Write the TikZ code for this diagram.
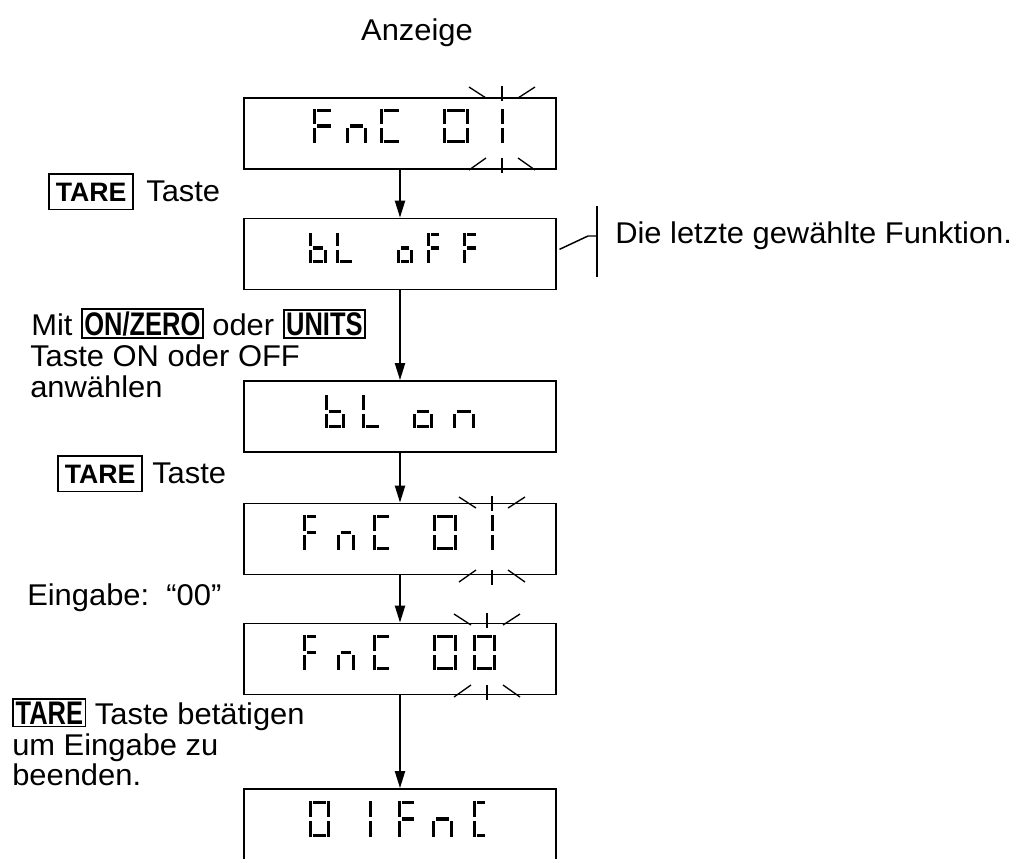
\documentclass[tikz,border=0pt]{standalone}
\usepackage{fontspec}
\setmainfont{Liberation Sans}[FakeStretch=1.03]
\newfontfamily\keyfont{Liberation Sans}
\newfontfamily\keycond{Liberation Sans}[FakeStretch=0.78]
\usetikzlibrary{arrows.meta}
\newcommand\kb[1]{{\setlength\fboxsep{1.2pt}\setlength\fboxrule{1.3pt}\fbox{\keycond\bfseries\fontsize{24.5}{26}\selectfont #1}}}
\def\sgT{3.1}
\newcommand\sgxa{\fill ({\sgT+1},0) rectangle ({\sgW-\sgT-1},\sgT);}
\newcommand\sgxg{\fill ({\sgT+1},{\sgH/2-\sgT/2}) rectangle ({\sgW-\sgT-1},{\sgH/2+\sgT/2});}
\newcommand\sgxd{\fill ({\sgT+1},{\sgH-\sgT}) rectangle ({\sgW-\sgT-1},\sgH);}
\newcommand\sgxf{\fill (0,0) rectangle (\sgT,{\sgH/2-2});}
\newcommand\sgxe{\fill (0,{\sgH/2+2}) rectangle (\sgT,\sgH);}
\newcommand\sgxb{\fill ({\sgW-\sgT},0) rectangle (\sgW,{\sgH/2-2});}
\newcommand\sgxc{\fill ({\sgW-\sgT},{\sgH/2+2}) rectangle (\sgW,\sgH);}
\newcommand\sseg[5]{\begin{scope}[shift={(#1,#2)}]\def\sgW{#3}\def\sgH{#4}\foreach \s in {#5}{\csname sgx\s\endcsname}\end{scope}}
\newcommand\flashT[2]{\draw[flash] (#1,#2) -- (#1,{#2+15});
  \draw[flash] ({#1-33},{#2+1}) -- ({#1-16},{#2+12});
  \draw[flash] ({#1+33},{#2+1}) -- ({#1+16},{#2+12});}
\newcommand\flashB[2]{\draw[flash] (#1,#2) -- (#1,{#2+15});
  \draw[flash] ({#1-16},#2) -- ({#1-33},{#2+12});
  \draw[flash] ({#1+16},#2) -- ({#1+33},{#2+12});}
\tikzset{
  disp/.style={draw, line width=1.3pt, minimum width=234pt, minimum height=53.25pt, inner sep=0pt},
  arr/.style={line width=1.5pt, -{Triangle[length=12.75pt, width=7.5pt]}},
  flash/.style={line width=1pt},
  lnk/.style={line width=1.1pt},
  lbl/.style={font=\fontsize{22.5}{23.25}\selectfont, inner sep=0pt, anchor=base west},
  keynode/.style={draw, line width=1.3pt, inner xsep=5.2pt, inner ysep=6.4pt, anchor=base west, font=\keyfont\bfseries\fontsize{20}{22}\selectfont}
}
\begin{document}
\begin{tikzpicture}[x=0.75pt, y=-0.75pt]
\useasboundingbox (0,0) rectangle (1031,858);
\clip (0,0) rectangle (1031,858);
\fill[white] (0,0) rectangle (1031,858);

\node[lbl, anchor=base] (anz) at (417,40) {Anzeige};

% display boxes
\node[disp] (d1) at (400,133.5) {};
\node[disp] (d2) at (400,254) {};
\node[disp] (d3) at (400,416.5) {};
\node[disp] (d4) at (400,539) {};
\node[disp] (d5) at (400,659) {};
\node[disp] (d6) at (400,824.5) {};

\draw[arr] (d1.south) -- (d2.north);
\draw[arr] (d2.south) -- (d3.north);
\draw[arr] (d3.south) -- (d4.north);
\draw[arr] (d4.south) -- (d5.north);
\draw[arr] (d5.south) -- (d6.north);

% digits box 1: FnC 01
\sseg{313}{109}{22}{34}{a,e,f,g}
\sseg{346}{109}{21}{34}{c,e,g}
\sseg{380}{109}{23}{34}{a,d,e,f}
\sseg{443}{109}{26}{34}{a,b,c,d,e,f}
\sseg{480}{109}{24}{34}{b,c}
\flashT{502}{86}
\flashB{502}{158}
% box 2: bL oFF
\sseg{309}{233}{18}{30}{c,d,e,f,g}
\sseg{336}{233}{20}{30}{d,e,f}
\sseg{397}{233}{16}{30}{c,d,e,g}
\sseg{427}{233}{16}{30}{a,e,f,g}
\sseg{463}{233}{17}{30}{a,e,f,g}
% box 3: bL on
\sseg{325}{395}{20}{33}{c,d,e,f,g}
\sseg{362}{395}{21}{33}{d,e,f}
\sseg{413}{395}{20}{33}{c,d,e,g}
\sseg{453}{395}{22}{33}{c,e,g}
% box 4: FnC 01
\sseg{303}{515}{17}{35}{a,e,f,g}
\sseg{337}{515}{18}{35}{c,e,g}
\sseg{373}{515}{20}{35}{a,d,e,f}
\sseg{433}{515}{24}{35}{a,b,c,d,e,f}
\sseg{472}{515}{22}{35}{b,c}
\flashT{492}{496}
\flashB{492}{570}
% box 5: FnC 00
\sseg{303}{635}{17}{35}{a,e,f,g}
\sseg{337}{635}{18}{35}{c,e,g}
\sseg{373}{635}{20}{35}{a,d,e,f}
\sseg{433}{635}{24}{35}{a,b,c,d,e,f}
\sseg{473}{635}{23}{35}{a,b,c,d,e,f}
\flashT{487}{613}
\flashB{487}{685}
% box 6: 01FnC
\sseg{309}{801}{21}{36}{a,b,c,d,e,f}
\sseg{350}{801}{22}{36}{b,c}
\sseg{398}{801}{20}{36}{a,e,f,g}
\sseg{432}{801}{21}{36}{c,e,g}
\sseg{473}{801}{16}{36}{a,d,e,f}

% bracket note
\coordinate (bk1) at (588,236);
\coordinate (bk2) at (597,236);
\coordinate (bt) at (597,206);
\coordinate (bb) at (597,277);
\draw[lnk] ([xshift=2pt,yshift=3.5pt]d2.east) -- (bk1) -- (bk2);
\draw[lnk] (bt) -- (bb);
\node[lbl] (note) at (615,243) {Die letzte gewählte Funktion.};

% left texts
\node[keynode] (k1) at (48,201) {TARE};
\node[lbl] (k1t) at (146,201) {Taste};
\node[lbl] (m1) at (31,335) {Mit \kb{ON/ZERO} oder \kb{UNITS}};
\node[lbl] (m2) at (30,366) {Taste ON oder OFF};
\node[lbl] (m3) at (30,397) {anwählen};
\node[keynode] (k2) at (57,483) {TARE};
\node[lbl] (k2t) at (152,483) {Taste};
\node[lbl] (e1) at (27,605) {Eingabe:\ \ “00”};
\node[lbl] (t1) at (12,724) {\kb{TARE} Taste betätigen};
\node[lbl] (t2) at (12,755) {um Eingabe zu};
\node[lbl] (t3) at (12,785) {beenden.};
\end{tikzpicture}
\end{document}
